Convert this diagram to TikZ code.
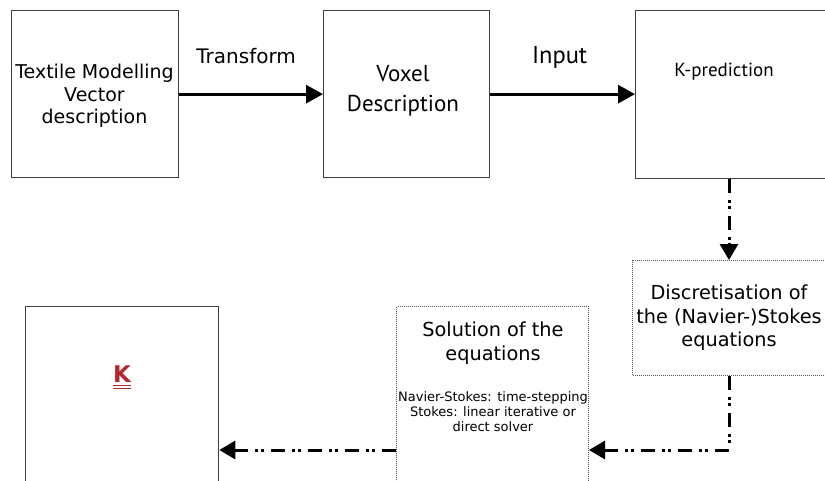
\documentclass[tikz,border=0pt]{standalone}
\usepackage{fontspec}
\setmainfont{DejaVu Sans}
\newfontfamily\humfont{PT Sans}
\usetikzlibrary{arrows.meta,calc}
\definecolor{kred}{HTML}{B3282D}
\begin{document}
\begin{tikzpicture}[x=1pt,y=-1pt,
  solidbox/.style={draw=black!75, line width=1.3pt, inner sep=0pt, anchor=north west},
  dotbox/.style={draw=black!65, line width=1pt, densely dotted, inner sep=0pt, anchor=north west, align=center},
  flow/.style={line width=3pt, -{Triangle[length=17pt,width=18pt]}},
  dashflow/.style={line width=3pt, dash pattern=on 14pt off 7pt on 3pt off 3pt on 3pt off 7pt, -{Triangle[length=16pt,width=18pt]}},
  toptext/.style={font=\fontsize{19}{22.5}\selectfont, align=center},
  bigtext/.style={font=\fontsize{19.3}{23.5}\selectfont, align=center},
  smalltext/.style={font=\fontsize{13}{15}\selectfont, align=center},
  lbl/.style={midway, anchor=base, yshift=30.5pt, inner sep=0pt}]
\useasboundingbox (0,0) rectangle (825,480);
\clip (0,0) rectangle (825,480);
% top row boxes
\node[solidbox, minimum width=167pt, minimum height=167pt] (tm) at (11,10) {};
\node[toptext] at (94.5,96) {Textile Modelling\\Vector\\description};
\node[solidbox, minimum width=166pt, minimum height=167pt] (vd) at (323,10) {};
\node[align=center, font=\humfont\fontsize{23}{30}\selectfont] at (403,91) {Voxel\\Description};
\node[solidbox, minimum width=200pt, minimum height=168pt] (kp) at (635,10) {};
\node[font=\humfont\fontsize{19}{21}\selectfont] at (724,72) {K-prediction};
% bottom row boxes
\node[dotbox, minimum width=193pt, minimum height=115pt, font=\fontsize{19.3}{23.5}\selectfont] (disc) at (632,260) {Discretisation of\\the (Navier-)Stokes\\equations};
\node[dotbox, minimum width=192pt, minimum height=180pt] (sol) at (396,306) {};
\node[bigtext] at (493,343) {Solution of the\\equations};
\node[smalltext] at (493,412) {Navier-Stokes: time-stepping\\Stokes: linear iterative or\\direct solver};
\node[solidbox, minimum width=193pt, minimum height=180pt] (kk) at (25,306) {};
\node[text=kred, font=\bfseries\fontsize{23}{23}\selectfont, inner sep=0pt] (klab) at (122,374) {K};
\draw[kred, line width=1.2pt] ([yshift=-3pt]klab.south west) -- ([yshift=-3pt]klab.south east)
  ([yshift=-6pt]klab.south west) -- ([yshift=-6pt]klab.south east);
% connectors
\coordinate (lvl) at (0,450);
\draw[flow] (tm.east) -- node[lbl, font=\fontsize{20}{24}\selectfont, xshift=-5pt] {Transform} (vd.west);
\draw[flow] (vd.east) -- node[lbl, font=\humfont\fontsize{24.5}{26}\selectfont, xshift=-3pt] {Input} (vd.east -| kp.west);
\draw[dashflow] (kp.south -| disc.north) -- (disc.north);
\draw[dashflow] (disc.south) |- (sol.east |- lvl);
\draw[dashflow] (sol.west |- lvl) -- (kk.east |- lvl);
\end{tikzpicture}
\end{document}
